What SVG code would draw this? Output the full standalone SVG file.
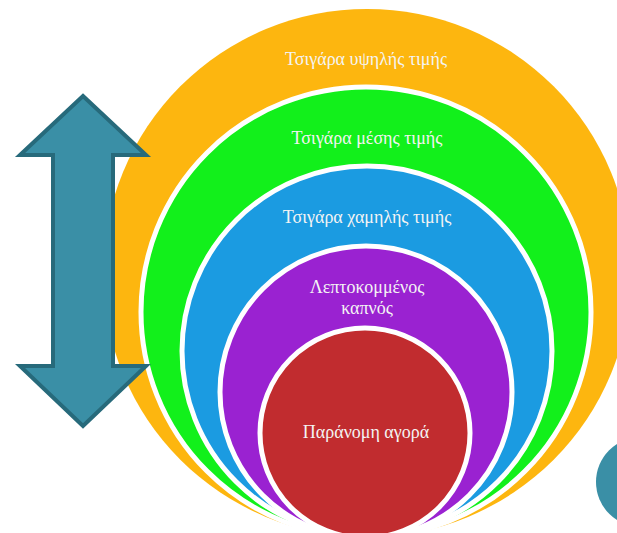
<svg xmlns="http://www.w3.org/2000/svg" width="617" height="533" viewBox="0 0 617 533">
<style>
.ring{stroke:#ffffff;stroke-width:5}
.lbl{font-family:"Liberation Serif","DejaVu Serif",serif;font-size:18px;fill:#f4f4f4;text-anchor:middle}
</style>
<rect width="617" height="533" fill="#ffffff"/>
<g id="level-high">
<circle cx="367" cy="273" r="264" fill="#FDB60F"/>
<text class="lbl" x="366" y="65">Τσιγάρα υψηλής τιμής</text>
</g>
<g id="level-mid">
<circle class="ring" cx="366" cy="312" r="225" fill="#12F01B"/>
<text class="lbl" x="367" y="144">Τσιγάρα μέσης τιμής</text>
</g>
<g id="level-low">
<circle class="ring" cx="367" cy="351" r="185" fill="#1B9BE1"/>
<text class="lbl" x="367" y="223">Τσιγάρα χαμηλής τιμής</text>
</g>
<g id="level-rolling">
<circle class="ring" cx="366" cy="392" r="146" fill="#9A22D1"/>
<text class="lbl" x="367" y="293">Λεπτοκομμένος</text>
<text class="lbl" x="367" y="314">καπνός</text>
</g>
<g id="level-illegal">
<circle class="ring" cx="365" cy="433" r="105" fill="#C12C2F"/>
<text class="lbl" x="366" y="438">Παράνομη αγορά</text>
</g>
<g id="arrow">
<polygon points="83,96 146,155 113,155 113,366 146,366 83,426 20,366 53,366 53,155 20,155" fill="#3A8FA6" stroke="#276A7B" stroke-width="4" stroke-linejoin="miter"/>
</g>
<g id="side-circle">
<circle cx="641" cy="482" r="45" fill="#3A8FA6"/>
</g>
<g id="connectors"></g>
</svg>
